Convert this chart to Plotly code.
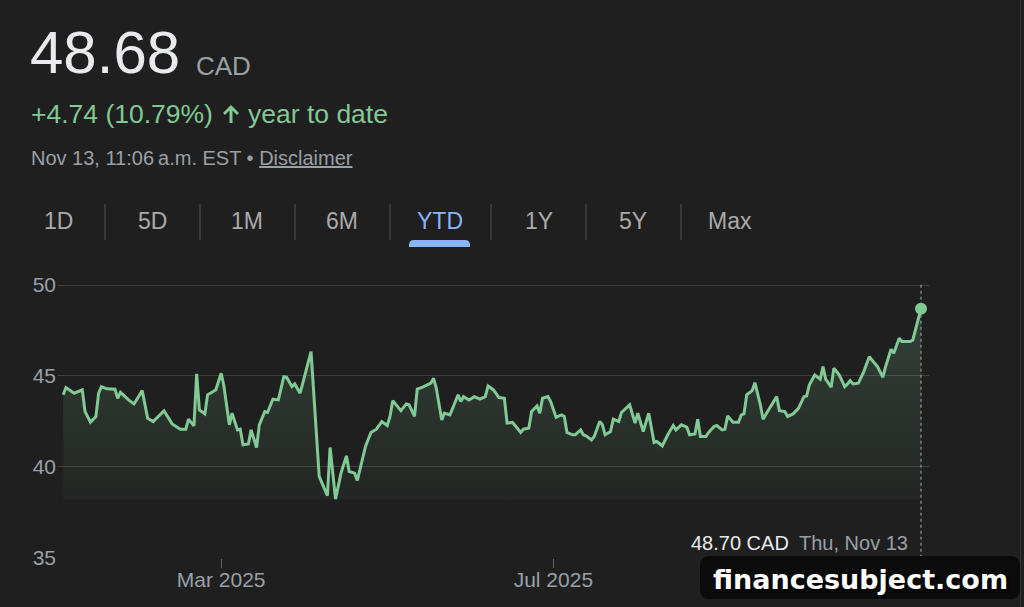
import plotly.graph_objects as go

# ---------------- data ----------------
dates = [
    "2025-01-02", "2025-01-03", "2025-01-06", "2025-01-09", "2025-01-10", "2025-01-12", "2025-01-14",
    "2025-01-15", "2025-01-16", "2025-01-18", "2025-01-21", "2025-01-22", "2025-01-23", "2025-01-26",
    "2025-01-28", "2025-01-31", "2025-02-02", "2025-02-04", "2025-02-08", "2025-02-11", "2025-02-14",
    "2025-02-16", "2025-02-17", "2025-02-19", "2025-02-20", "2025-02-21", "2025-02-23", "2025-02-24",
    "2025-02-27", "2025-03-01", "2025-03-02", "2025-03-04", "2025-03-05", "2025-03-07", "2025-03-08",
    "2025-03-09", "2025-03-11", "2025-03-12", "2025-03-14", "2025-03-15", "2025-03-17", "2025-03-18",
    "2025-03-20", "2025-03-22", "2025-03-24", "2025-03-25", "2025-03-27", "2025-03-28", "2025-03-30",
    "2025-04-03", "2025-04-06", "2025-04-09", "2025-04-10", "2025-04-12", "2025-04-14", "2025-04-16",
    "2025-04-17", "2025-04-19", "2025-04-20", "2025-04-23", "2025-04-25", "2025-04-27", "2025-04-29",
    "2025-05-01", "2025-05-02", "2025-05-03", "2025-05-06", "2025-05-08", "2025-05-09", "2025-05-11",
    "2025-05-12", "2025-05-14", "2025-05-17", "2025-05-18", "2025-05-19", "2025-05-21", "2025-05-22",
    "2025-05-24", "2025-05-25", "2025-05-27", "2025-05-28", "2025-05-29", "2025-05-31", "2025-06-02",
    "2025-06-04", "2025-06-06", "2025-06-07", "2025-06-09", "2025-06-11", "2025-06-13", "2025-06-14",
    "2025-06-16", "2025-06-19", "2025-06-20", "2025-06-22", "2025-06-23", "2025-06-25", "2025-06-26",
    "2025-06-27", "2025-06-29", "2025-06-30", "2025-07-02", "2025-07-04", "2025-07-05", "2025-07-06",
    "2025-07-08", "2025-07-09", "2025-07-11", "2025-07-12", "2025-07-13", "2025-07-15", "2025-07-16",
    "2025-07-18", "2025-07-19", "2025-07-20", "2025-07-22", "2025-07-23", "2025-07-25", "2025-07-26",
    "2025-07-28", "2025-07-29", "2025-07-31", "2025-08-01", "2025-08-03", "2025-08-05", "2025-08-07",
    "2025-08-08", "2025-08-10", "2025-08-12", "2025-08-14", "2025-08-15", "2025-08-17", "2025-08-19",
    "2025-08-20", "2025-08-22", "2025-08-23", "2025-08-24", "2025-08-26", "2025-08-27", "2025-08-29",
    "2025-08-30", "2025-09-01", "2025-09-02", "2025-09-03", "2025-09-05", "2025-09-07", "2025-09-08",
    "2025-09-09", "2025-09-10", "2025-09-12", "2025-09-13", "2025-09-15", "2025-09-16", "2025-09-18",
    "2025-09-21", "2025-09-22", "2025-09-24", "2025-09-25", "2025-09-27", "2025-09-29", "2025-10-01",
    "2025-10-02", "2025-10-03", "2025-10-05", "2025-10-07", "2025-10-08", "2025-10-09", "2025-10-11",
    "2025-10-12", "2025-10-14", "2025-10-16", "2025-10-17", "2025-10-18", "2025-10-19", "2025-10-21",
    "2025-10-23", "2025-10-25", "2025-10-28", "2025-10-30", "2025-10-31", "2025-11-02", "2025-11-03",
    "2025-11-05", "2025-11-06", "2025-11-09", "2025-11-10", "2025-11-12", "2025-11-13",
]
prices = [
    43.96, 44.36, 44.05, 44.23, 43.04, 42.46, 42.77,
    44.05, 44.41, 44.29, 44.27, 43.77, 44.10, 43.68,
    43.46, 44.19, 42.67, 42.49, 43.08, 42.36, 42.07,
    42.07, 42.62, 42.25, 45.11, 43.13, 42.91, 43.96,
    44.23, 45.15, 44.45, 42.31, 42.95, 42.03, 42.07,
    41.21, 41.26, 42.03, 41.06, 42.31, 43.04, 42.99,
    43.72, 43.68, 44.96, 44.93, 44.41, 44.56, 44.05,
    46.34, 39.47, 38.41, 41.06, 38.22, 39.65, 40.60,
    39.74, 39.65, 39.25, 41.12, 41.89, 42.07, 42.49,
    42.27, 42.77, 43.64, 43.09, 43.46, 43.41, 42.77,
    44.27, 44.38, 44.60, 44.87, 44.32, 42.58, 42.95,
    42.86, 43.22, 43.96, 43.59, 43.86, 43.68, 43.86,
    43.72, 43.86, 44.45, 44.23, 43.81, 43.77, 42.40,
    42.44, 41.89, 42.07, 42.13, 43.04, 43.35, 42.95,
    43.77, 43.86, 43.59, 42.73, 42.86, 42.77, 41.89,
    41.76, 41.76, 42.03, 41.76, 41.70, 41.48, 41.67,
    42.49, 42.31, 41.76, 41.94, 42.62, 42.49, 42.99,
    43.26, 43.41, 42.40, 42.95, 41.94, 42.95, 41.34,
    41.39, 41.15, 41.76, 42.27, 42.03, 42.31, 42.18,
    41.76, 41.81, 42.62, 41.67, 41.67, 41.89, 42.22,
    42.27, 42.03, 42.07, 42.80, 42.45, 42.45, 42.86,
    42.91, 43.96, 44.19, 44.63, 43.41, 42.62, 43.13,
    43.86, 43.09, 43.04, 42.77, 42.91, 43.22, 43.86,
    43.90, 44.51, 45.05, 44.82, 45.51, 44.82, 44.38,
    45.42, 45.05, 44.41, 44.56, 44.74, 44.56, 44.60,
    45.24, 46.06, 45.51, 44.93, 45.51, 46.47, 46.25,
    47.07, 46.89, 46.89, 46.98, 48.17, 48.70,
]
y_ticks = [35, 40, 45, 50]
x_tick_dates = ["2025-03-01", "2025-07-01"]
x_tick_labels = ["Mar 2025", "Jul 2025"]
tabs = ["1D", "5D", "1M", "6M", "YTD", "1Y", "5Y", "Max"]
active_tab = "YTD"

price_now = "48.68"
currency = "CAD"
change_text = "+4.74 (10.79%)"
change_suffix = "year to date"
timestamp = "Nov 13, 11:06\u202fa.m. EST • "
hover_date = "Thu, Nov 13"
watermark = "financesubject.com"

# ---------------- layout helpers (pixel -> paper) ----------------
W, H = 1024, 607
L, R, T, B = 57, 929, 276, 558
FONT = "Arial, Liberation Sans, sans-serif"
GREEN = "#81c995"
GRAY = "#9aa0a6"
BG = "#1f1f1f"


def px(x):
    return (x - L) / (R - L)


def py(y):
    return (B - y) / (B - T)


def rounded_path(x0, y0, x1, y1, r, top_only=False):
    def P(x, y):
        return f"{px(x):.5f},{py(y):.5f}"
    if top_only:
        return (f"M {P(x0, y1)} L {P(x0, y0 + r)} Q {P(x0, y0)} {P(x0 + r, y0)} "
                f"L {P(x1 - r, y0)} Q {P(x1, y0)} {P(x1, y0 + r)} L {P(x1, y1)} Z")
    return (f"M {P(x0 + r, y0)} L {P(x1 - r, y0)} Q {P(x1, y0)} {P(x1, y0 + r)} "
            f"L {P(x1, y1 - r)} Q {P(x1, y1)} {P(x1 - r, y1)} L {P(x0 + r, y1)} "
            f"Q {P(x0, y1)} {P(x0, y1 - r)} L {P(x0, y0 + r)} Q {P(x0, y0)} {P(x0 + r, y0)} Z")


fig = go.Figure()
base = min(prices)
fig.add_trace(go.Scatter(x=dates, y=[base] * len(dates), mode="lines",
                         line=dict(width=0, color=BG), hoverinfo="skip", showlegend=False))
fig.add_trace(go.Scatter(
    x=dates, y=prices, mode="lines", line=dict(color=GREEN, width=3),
    fill="tonexty",
    fillgradient=dict(type="vertical",
                      colorscale=[[0, "rgba(129,201,149,0.04)"], [1, "rgba(129,201,149,0.2)"]],
                      start=base, stop=max(prices)),
    showlegend=False))
fig.add_trace(go.Scatter(x=[dates[-1]], y=[prices[-1]], mode="markers",
                         marker=dict(size=12, color=GREEN), cliponaxis=False, showlegend=False))

shapes = []
# tooltip backdrop covering grid
shapes.append(dict(type="rect", xref="paper", yref="paper", x0=px(678), x1=px(930),
                   y0=py(563), y1=py(500), fillcolor=BG, line=dict(width=0), layer="between"))
# dotted hover line
shapes.append(dict(type="line", xref="x", yref="y", x0=dates[-1], x1=dates[-1],
                   y0=35, y1=50.15, line=dict(color="#8a8d91", width=1.3, dash="dot"),
                   layer="between"))
# tab separators
for sx in [105, 200, 295, 390, 491, 586, 681]:
    shapes.append(dict(type="line", xref="paper", yref="paper", x0=px(sx), x1=px(sx),
                       y0=py(204), y1=py(240), line=dict(color="#3f4245", width=1.5)))
# active tab underline
shapes.append(dict(type="path", xref="paper", yref="paper",
                   path=rounded_path(409, 240, 470, 247, 5, top_only=True),
                   fillcolor="#8ab4f8", line=dict(width=0)))
# up arrow icon
ax = 231
shapes.append(dict(type="path", xref="paper", yref="paper",
                   path=(f"M {px(ax - 8):.5f},{py(113):.5f} L {px(ax):.5f},{py(105):.5f} "
                         f"L {px(ax + 8):.5f},{py(113):.5f} L {px(ax + 6):.5f},{py(115):.5f} "
                         f"L {px(ax + 1.5):.5f},{py(110.5):.5f} L {px(ax + 1.5):.5f},{py(123):.5f} "
                         f"L {px(ax - 1.5):.5f},{py(123):.5f} L {px(ax - 1.5):.5f},{py(110.5):.5f} "
                         f"L {px(ax - 6):.5f},{py(115):.5f} Z"),
                   fillcolor=GREEN, line=dict(width=0)))
# watermark box
shapes.append(dict(type="path", xref="paper", yref="paper",
                   path=rounded_path(700, 556, 1020, 599, 10),
                   fillcolor="#0b0b0b", line=dict(width=0)))
# right page border
shapes.append(dict(type="line", xref="paper", yref="paper", x0=px(1020.5), x1=px(1020.5),
                   y0=py(0), y1=py(607), line=dict(color="#333333", width=1)))

ann = []


def text(x, y, s, size, color, xanchor="left", family=FONT, **kw):
    ann.append(dict(xref="paper", yref="paper", x=px(x), y=py(y), text=s, showarrow=False,
                    xanchor=xanchor, yanchor="middle", font=dict(size=size, color=color, family=family),
                    **kw))


text(28, 53, price_now, 60, "#e8eaed")
text(194, 66, currency, 26, GRAY)
text(29, 114, change_text, 26.5, GREEN)
text(246, 114, change_suffix, 26.5, GREEN)
text(29, 158, f"{timestamp}<u>Disclaimer</u>", 20, GRAY)

tab_centers = [58, 152, 247, 342, 440, 539, 633, 730]
for name, cx in zip(tabs, tab_centers):
    text(cx, 221, name, 23, "#8ab4f8" if name == active_tab else "#aaaaaa", xanchor="center")

text(689, 543, f"{prices[-1]:.2f} {currency}", 20, "#e8eaed")
text(910, 543, hover_date, 20, GRAY, xanchor="right")
ann.append(dict(xref="paper", yref="paper", x=px(860), y=py(579), text=f"<b>{watermark}</b>",
                showarrow=False, xanchor="center", yanchor="middle",
                font=dict(size=27, color="#ffffff", family="DejaVu Sans",
                          shadow="2px 2px 2px #000000")))

fig.update_layout(
    width=W, height=H,
    margin=dict(l=L, r=W - R, t=T, b=H - B, pad=0),
    paper_bgcolor=BG, plot_bgcolor=BG,
    showlegend=False,
    shapes=shapes, annotations=ann,
    xaxis=dict(type="date", range=["2024-12-30 17:00", "2025-11-15 22:30"],
               tickvals=x_tick_dates, ticktext=x_tick_labels,
               ticks="outside", ticklen=9, tickwidth=1, tickcolor="#5f6368",
               ticklabelstandoff=-6,
               showgrid=False, zeroline=False, showline=False,
               tickfont=dict(size=21, color=GRAY, family=FONT)),
    yaxis=dict(range=[34.98, 50.5], tickvals=y_ticks, showgrid=True,
               gridcolor="#3c4043", gridwidth=1, zeroline=False, showline=False, ticks="",
               tickfont=dict(size=21, color=GRAY, family=FONT)),
)

fig.write_html("out.html")
